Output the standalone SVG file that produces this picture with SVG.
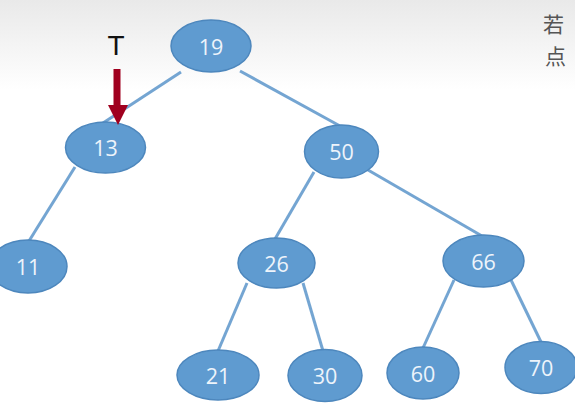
<svg xmlns="http://www.w3.org/2000/svg" width="575" height="418" viewBox="0 0 575 418">
<defs>
<linearGradient id="bg" x1="0" y1="0" x2="0" y2="1">
<stop offset="0" stop-color="#e9e9e9"/>
<stop offset="1" stop-color="#ffffff"/>
</linearGradient>
</defs>
<style>
.node ellipse{fill:#5f9bd0;stroke:#4d87bd;stroke-width:1.5}
.node text{fill:#eef4fb;font-family:"Open Sans","Liberation Sans",sans-serif;font-size:21.5px;text-anchor:middle;dominant-baseline:central}
.edge{stroke:#74a5d2;stroke-width:3;fill:none}
.side{fill:#555;font-family:"Noto Sans CJK SC",sans-serif;font-size:21px}
</style>
<rect x="0" y="0" width="575" height="418" fill="#ffffff"/>
<rect x="0" y="0" width="575" height="90" fill="url(#bg)"/>
<g id="connectors">
<line class="edge" x1="181" y1="72" x2="103" y2="123"/>
<line class="edge" x1="240" y1="71" x2="340" y2="126"/>
<line class="edge" x1="75" y1="167" x2="29" y2="241"/>
<line class="edge" x1="314" y1="172" x2="275" y2="239"/>
<line class="edge" x1="368" y1="170" x2="482" y2="236"/>
<line class="edge" x1="247" y1="283" x2="218" y2="351"/>
<line class="edge" x1="303" y1="283" x2="323" y2="351"/>
<line class="edge" x1="454" y1="280" x2="423" y2="348"/>
<line class="edge" x1="511" y1="280" x2="541" y2="342"/>
</g>
<g id="n19" class="node"><ellipse cx="211" cy="46" rx="40" ry="26"/><text x="211" y="46">19</text></g>
<g id="n13" class="node"><ellipse cx="105.5" cy="147.5" rx="40" ry="25.5"/><text x="105.5" y="147.5">13</text></g>
<g id="n50" class="node"><ellipse cx="341.5" cy="151.5" rx="37" ry="26.5"/><text x="341.5" y="151.5">50</text></g>
<g id="n11" class="node"><ellipse cx="28" cy="266.5" rx="39" ry="26.5"/><text x="28" y="266.5">11</text></g>
<g id="n26" class="node"><ellipse cx="276.5" cy="263" rx="38.5" ry="25"/><text x="276.5" y="263">26</text></g>
<g id="n66" class="node"><ellipse cx="483.5" cy="261" rx="40.5" ry="26"/><text x="483.5" y="261">66</text></g>
<g id="n21" class="node"><ellipse cx="218" cy="375" rx="41" ry="25"/><text x="218" y="375">21</text></g>
<g id="n30" class="node"><ellipse cx="325" cy="375.5" rx="37" ry="26"/><text x="325" y="375.5">30</text></g>
<g id="n60" class="node"><ellipse cx="423" cy="373" rx="36" ry="26"/><text x="423" y="373">60</text></g>
<g id="n70" class="node"><ellipse cx="541" cy="367.5" rx="36" ry="26"/><text x="541" y="367.5">70</text></g>
<g id="pointer">
<text x="116" y="55" font-family="Liberation Sans,sans-serif" font-size="28" fill="#111" text-anchor="middle">T</text>
<rect x="113.5" y="69" width="7" height="37" fill="#a0001f"/>
<polygon points="108,105 128,105 118,125" fill="#a0001f"/>
</g>
<g id="side">
<text class="side" x="543" y="32">若</text>
<text class="side" x="545" y="64">点</text>
</g>
</svg>
